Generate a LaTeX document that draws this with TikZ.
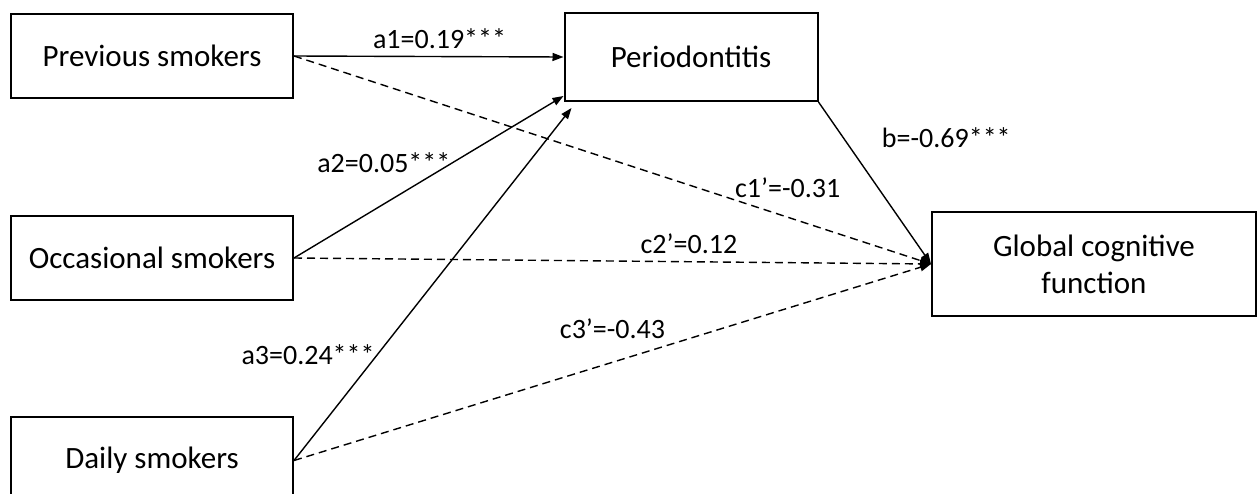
\documentclass[tikz,border=0pt]{standalone}
\usepackage{fontspec}
\setmainfont{Carlito}
\usetikzlibrary{positioning, arrows.meta}
\tikzset{
x=1pt, y=-1pt, % one unit is one pixel of the original figure
varbox/.style={draw, line width=2pt, minimum width=282pt, minimum height=84pt, align=center, font=\fontsize{31}{37}\selectfont}, % the variable boxes
effect/.style={line width=1.4pt, -{Triangle[length=11pt,width=8pt]}}, % solid paths
directeffect/.style={effect, dash pattern=on 8pt off 5pt}, % the direct paths are dashed
coef/.style={font=\fontsize{28}{32}\selectfont, inner sep=2pt}, % coefficients on the paths
}

\begin{document}
\begin{tikzpicture}
        \useasboundingbox (0,0) rectangle (1258,493);

        \node[varbox] (prev) at (152,56) {Previous smokers};
        \node[varbox, below=116pt of prev] (occ) {Occasional smokers};
        \node[varbox, below=115pt of occ, minimum height=87pt] (daily) {Daily smokers};
        \node[varbox, minimum width=253pt, minimum height=88pt] (perio) at (691,57) {Periodontitis};
        \node[varbox, minimum width=324pt, minimum height=104pt] (glob) at (1094,264) {Global cognitive\\function};

        \path (prev.east) edge[effect] node[coef, pos=0.54, above=5pt] {a1=0.19***} (perio.west)
              (occ.east) edge[effect] node[coef, pos=0.59, left] {a2=0.05***} ([yshift=6pt]perio.south west)
              (daily.east) edge[effect] node[coef, pos=0.3, left] {a3=0.24***} ([xshift=8pt,yshift=-6pt]perio.south west)
              (perio.south east) edge[effect] node[coef, pos=0.22, right=36pt] {b=-0.69***} (glob.west)
              (prev.east) edge[directeffect] node[coef, pos=0.775, above=17pt] {c1’=-0.31} (glob.west)
              (occ.east) edge[directeffect] node[coef, pos=0.62, above=5pt] {c2’=0.12} (glob.west)
              (daily.east) edge[directeffect] node[coef, pos=0.5, above=21pt] {c3’=-0.43} (glob.west)
              ;

    \end{tikzpicture}
\end{document}
